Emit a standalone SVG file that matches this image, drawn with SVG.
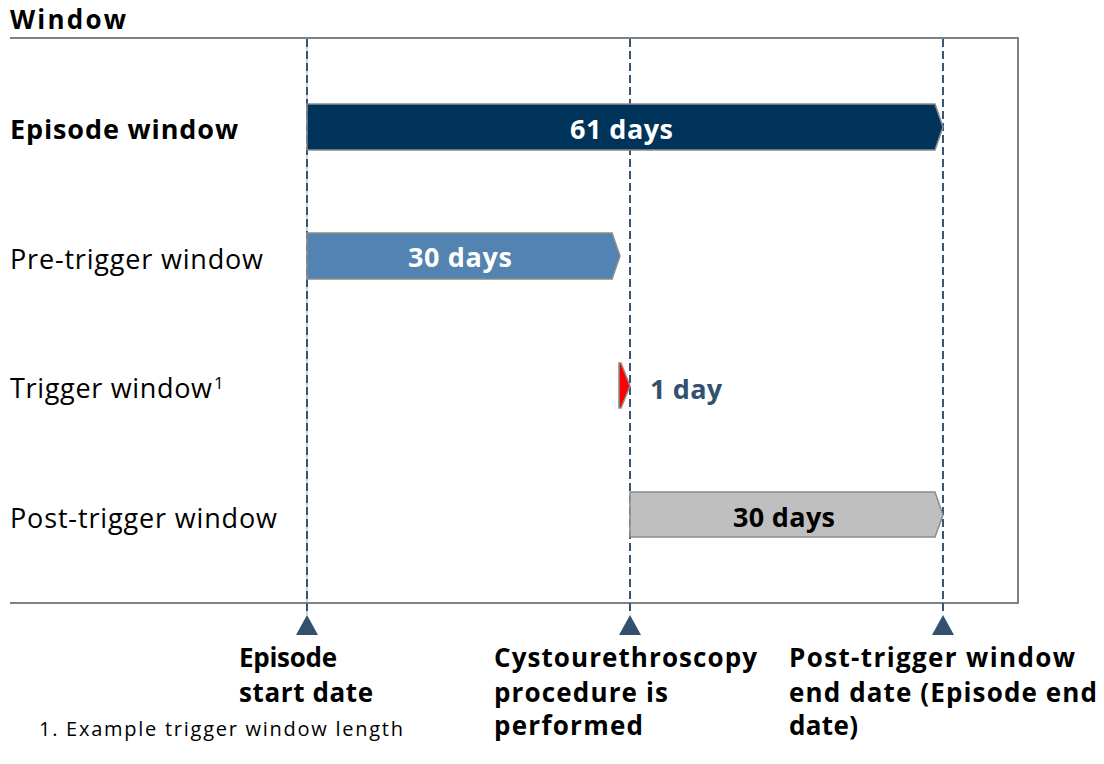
<svg xmlns="http://www.w3.org/2000/svg" width="1104" height="764" viewBox="0 0 1104 764">
<defs>
<style>
text{font-family:"Open Sans","Noto Sans","DejaVu Sans",sans-serif;fill:#000}
.b{font-weight:bold}
.lbl{font-size:27px}
.bar{font-size:27px;font-weight:bold;fill:#fff}
.frame{stroke:#808080;stroke-width:2;fill:none}
.dash{stroke:#3a5676;stroke-width:2;stroke-dasharray:8 4;fill:none}
.shape{stroke:#8c8c8c;stroke-width:1.5}
.tri{fill:#34506f}
.ev{font-size:26px;font-weight:bold}
</style>
</defs>
<rect width="1104" height="764" fill="#fff"/>
<g id="frame">
<text x="10" y="29" class="b" style="font-size:26px" textLength="116" lengthAdjust="spacing">Window</text>
<polyline class="frame" points="10,38 1018,38 1018,603 10,603"/>
</g>
<g id="labels">
<text x="10" y="139" class="lbl b" textLength="228" lengthAdjust="spacing">Episode window</text>
<text x="10" y="269" class="lbl" textLength="253" lengthAdjust="spacing">Pre-trigger window</text>
<text x="10" y="398" class="lbl"><tspan textLength="202" lengthAdjust="spacing">Trigger window</tspan><tspan x="214" dy="-9" style="font-size:17px">1</tspan></text>
<text x="10" y="528" class="lbl" textLength="267" lengthAdjust="spacing">Post-trigger window</text>
</g>
<g id="connectors">
<line x1="307" y1="38" x2="307" y2="615" stroke="#a6a6a6" stroke-width="1"/>
<line class="dash" x1="307" y1="39" x2="307" y2="615"/>
<line class="dash" x1="630" y1="39" x2="630" y2="615"/>
<line class="dash" x1="943" y1="39" x2="943" y2="615"/>
</g>
<g id="episode-bar">
<polygon class="shape" fill="#003359" points="307,104 935,104 943,127 935,150 307,150"/>
<text x="570" y="139" class="bar" textLength="103" lengthAdjust="spacing">61 days</text>
</g>
<g id="pre-trigger-bar">
<polygon class="shape" fill="#5383b0" points="307,233 612,233 620,256 612,279 307,279"/>
<text x="408" y="267" class="bar" textLength="104" lengthAdjust="spacing">30 days</text>
</g>
<g id="trigger-bar">
<polygon class="shape" fill="#ff0000" points="619,363 621,363 630,386 621,408 619,408"/>
<text x="650" y="399" class="b" style="font-size:27px;fill:#34506f" textLength="72" lengthAdjust="spacing">1 day</text>
</g>
<g id="post-trigger-bar">
<polygon class="shape" fill="#bfbfbf" points="630,492 935,492 943,515 935,537 630,537"/>
<text x="733" y="527" class="bar" style="fill:#000" textLength="102" lengthAdjust="spacing">30 days</text>
</g>
<g id="start-marker">
<polygon class="tri" points="307,615 318,635 296,635"/>
<text class="ev"><tspan x="239" y="667" textLength="98" lengthAdjust="spacing">Episode</tspan><tspan x="239" y="702" textLength="134" lengthAdjust="spacing">start date</tspan></text>
</g>
<g id="trigger-marker">
<polygon class="tri" points="630,615 641,635 619,635"/>
<text class="ev"><tspan x="494" y="667" textLength="263" lengthAdjust="spacing">Cystourethroscopy</tspan><tspan x="494" y="702" textLength="174" lengthAdjust="spacing">procedure is</tspan><tspan x="494" y="735" textLength="149" lengthAdjust="spacing">performed</tspan></text>
</g>
<g id="end-marker">
<polygon class="tri" points="943,615 954,635 932,635"/>
<text class="ev"><tspan x="789" y="667" textLength="286" lengthAdjust="spacing">Post-trigger window</tspan><tspan x="789" y="702" textLength="308" lengthAdjust="spacing">end date (Episode end</tspan><tspan x="789" y="735" textLength="69" lengthAdjust="spacing">date)</tspan></text>
</g>
<g id="footnote">
<text x="39" y="736" style="font-size:20px" textLength="364" lengthAdjust="spacing">1. Example trigger window length</text>
</g>
</svg>
